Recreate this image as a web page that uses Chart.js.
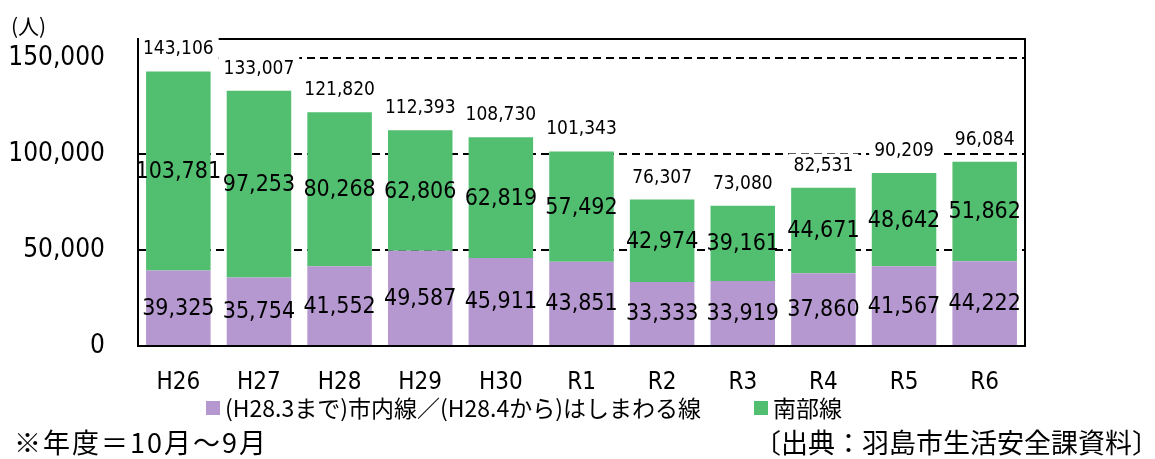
<!DOCTYPE html>
<html>
<head>
<meta charset="utf-8">
<script src="https://cdn.jsdelivr.net/npm/chart.js@4.4.1/dist/chart.umd.min.js"></script>
<style>
  body { margin: 0; background: #fff; }
  #wrap { position: relative; width: 1155px; height: 459px; overflow: hidden; font-family: "Noto Sans CJK JP", sans-serif; color: #000; }
  #wrap canvas { position: absolute; left: 0; top: 0; }
  .txt { position: absolute; white-space: nowrap; line-height: 1; }
  .box { position: absolute; width: 14px; height: 14px; }
</style>
</head>
<body>
<div id="wrap">
  <canvas id="myChart" width="1155" height="459"></canvas>
  <div class="txt" style="left:11px; top:15px; font-size:21px;">(人)</div>
  <div id="legend"></div>
  <div class="txt" style="left:14px; top:428px; font-size:27px; letter-spacing:2px;">※年度＝10月～9月</div>
  <div class="txt" style="right:-4px; top:428px; font-size:27px;">〔出典：羽島市生活安全課資料〕</div>
</div>
<script>
// data
const years = ['H26', 'H27', 'H28', 'H29', 'H30', 'R1', 'R2', 'R3', 'R4', 'R5', 'R6'];
const shinaiValues = [39325, 35754, 41552, 49587, 45911, 43851, 33333, 33919, 37860, 41567, 44222];
const nanbuValues = [103781, 97253, 80268, 62806, 62819, 57492, 42974, 39161, 44671, 48642, 51862];
const yTicks = [0, 50000, 100000, 150000];
const seriesNames = ['(H28.3まで)市内線／(H28.4から)はしまわる線', '南部線'];
const seriesColors = ['#B698D0', '#52BE6F'];

const numFont = '"DejaVu Sans Condensed", "DejaVu Sans", sans-serif';
const fmt = (v) => v.toLocaleString('en-US');

// labels inside bars + totals on top
const barLabels = {
    id: 'barLabels',
    afterDatasetsDraw(chart) {
        const { ctx, chartArea } = chart;
        ctx.save();
        // frame
        ctx.strokeStyle = '#000';
        ctx.lineWidth = 2;
        ctx.strokeRect(chartArea.left, chartArea.top, chartArea.right - chartArea.left, chartArea.bottom - chartArea.top);

        ctx.textAlign = 'center';
        ctx.textBaseline = 'middle';
        ctx.fillStyle = '#000';
        ctx.font = '23px ' + numFont;
        chart.data.datasets.forEach((ds, i) => {
            const meta = chart.getDatasetMeta(i);
            meta.data.forEach((bar, j) => {
                ctx.fillText(fmt(ds.data[j]), bar.x, (bar.y + bar.base) / 2 + 1);
            });
        });

        const tops = chart.getDatasetMeta(1).data;
        ctx.font = '19px ' + numFont;
        tops.forEach((bar, j) => {
            const total = chart.data.datasets[0].data[j] + chart.data.datasets[1].data[j];
            const txt = fmt(total);
            const w = ctx.measureText(txt).width;
            const y = bar.y - 22;
            ctx.fillStyle = '#fff';
            ctx.fillRect(bar.x - w / 2 - 5, y - 12, w + 10, 24);
            ctx.fillStyle = '#000';
            ctx.fillText(txt, bar.x, y);
        });

        // left axis stays on top of the label boxes
        ctx.beginPath();
        ctx.moveTo(chartArea.left, chartArea.top - 1);
        ctx.lineTo(chartArea.left, chartArea.bottom + 1);
        ctx.stroke();
        ctx.restore();
    }
};

const chartCtx = document.getElementById('myChart').getContext('2d');
new Chart(chartCtx, {
    type: 'bar',
    data: {
        labels: years,
        datasets: [
            { label: seriesNames[0], data: shinaiValues, backgroundColor: seriesColors[0] },
            { label: seriesNames[1], data: nanbuValues, backgroundColor: seriesColors[1] }
        ]
    },
    options: {
        responsive: false,
        animation: false,
        categoryPercentage: 1,
        barPercentage: 0.8,
        layout: { padding: { left: 0, right: 130, top: 39, bottom: 63 } },
        plugins: {
            legend: { display: false },
            tooltip: { enabled: false }
        },
        scales: {
            x: {
                stacked: true,
                grid: { display: false },
                border: { display: false },
                ticks: { color: '#000', padding: 14, font: { family: numFont, size: 24 } },
                afterFit: (scale) => { scale.height = 50; }
            },
            y: {
                stacked: true,
                min: 0,
                max: 160000,
                afterBuildTicks: (scale) => { scale.ticks = yTicks.map((v) => ({ value: v })); },
                grid: { color: '#000', lineWidth: 2, drawTicks: true, tickLength: 31, tickColor: 'rgba(0,0,0,0)' },
                border: { display: false, dash: [8, 5] },
                ticks: { color: '#000', padding: 2, font: { family: numFont, size: 26 }, callback: (v) => fmt(v) },
                afterFit: (scale) => { scale.width = 138; }
            }
        }
    },
    plugins: [barLabels]
});

// legend
const legend = document.getElementById('legend');
const legendLeft = [206, 754];
seriesNames.forEach((name, i) => {
    const box = document.createElement('div');
    box.className = 'box';
    box.style.left = legendLeft[i] + 'px';
    box.style.top = '401px';
    box.style.background = seriesColors[i];
    legend.appendChild(box);
    const t = document.createElement('div');
    t.className = 'txt';
    t.style.left = (legendLeft[i] + 19) + 'px';
    t.style.top = '396px';
    t.style.fontSize = '23px';
    t.textContent = name;
    legend.appendChild(t);
});
</script>
</body>
</html>
